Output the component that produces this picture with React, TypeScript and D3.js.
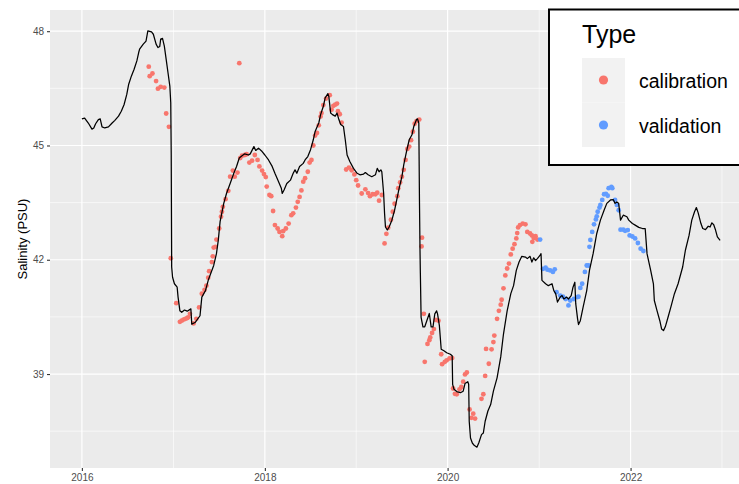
import React, { useRef, useEffect } from "react";
import * as d3 from "d3";

// modelled salinity (decimal year, PSU)
const simYear = [
  2016.00, 2016.03, 2016.07, 2016.11, 2016.13, 2016.15, 2016.18, 2016.20, 2016.22, 2016.25,
  2016.29, 2016.33, 2016.36, 2016.40, 2016.43, 2016.46, 2016.49, 2016.51, 2016.54, 2016.57,
  2016.60, 2016.62, 2016.63, 2016.67, 2016.70, 2016.72, 2016.76, 2016.78, 2016.81, 2016.83,
  2016.85, 2016.86, 2016.88, 2016.90, 2016.92, 2016.94, 2016.96, 2016.97, 2016.975, 2016.98,
  2016.99, 2017.01, 2017.04, 2017.05, 2017.07, 2017.09, 2017.12, 2017.15, 2017.19, 2017.20,
  2017.24, 2017.29, 2017.31, 2017.35, 2017.38, 2017.44, 2017.47, 2017.49, 2017.51, 2017.55,
  2017.58, 2017.62, 2017.66, 2017.69, 2017.72, 2017.75, 2017.78, 2017.82, 2017.84, 2017.88,
  2017.90, 2017.93, 2017.97, 2018.00, 2018.04, 2018.08, 2018.11, 2018.15, 2018.18, 2018.19,
  2018.21, 2018.24, 2018.28, 2018.31, 2018.33, 2018.35, 2018.38, 2018.42, 2018.44, 2018.47,
  2018.50, 2018.53, 2018.55, 2018.59, 2018.61, 2018.64, 2018.66, 2018.69, 2018.70, 2018.72,
  2018.74, 2018.77, 2018.79, 2018.81, 2018.83, 2018.86, 2018.88, 2018.90, 2018.93, 2018.97,
  2019.01, 2019.04, 2019.08, 2019.10, 2019.13, 2019.17, 2019.21, 2019.23, 2019.25, 2019.27,
  2019.28, 2019.30, 2019.31, 2019.32, 2019.34, 2019.36, 2019.39, 2019.42, 2019.45, 2019.47,
  2019.50, 2019.52, 2019.55, 2019.58, 2019.61, 2019.63, 2019.66, 2019.67, 2019.685, 2019.692,
  2019.698, 2019.702, 2019.71, 2019.73, 2019.75, 2019.78, 2019.80, 2019.82, 2019.84, 2019.86,
  2019.88, 2019.89, 2019.91, 2019.93, 2019.96, 2019.99, 2020.03, 2020.05, 2020.055, 2020.07,
  2020.10, 2020.14, 2020.17, 2020.19, 2020.22, 2020.23, 2020.236, 2020.25, 2020.27, 2020.29,
  2020.32, 2020.34, 2020.37, 2020.39, 2020.41, 2020.44, 2020.47, 2020.50, 2020.54, 2020.58,
  2020.61, 2020.65, 2020.69, 2020.72, 2020.75, 2020.78, 2020.81, 2020.85, 2020.87, 2020.90,
  2020.92, 2020.94, 2020.96, 2020.98, 2021.01, 2021.02, 2021.03, 2021.07, 2021.10, 2021.14,
  2021.16, 2021.18, 2021.20, 2021.23, 2021.25, 2021.27, 2021.30, 2021.32, 2021.35, 2021.37,
  2021.39, 2021.40, 2021.42, 2021.43, 2021.45, 2021.48, 2021.52, 2021.55, 2021.59, 2021.63,
  2021.67, 2021.71, 2021.74, 2021.78, 2021.81, 2021.83, 2021.85, 2021.87, 2021.89, 2021.92,
  2021.96, 2021.98, 2022.02, 2022.05, 2022.09, 2022.13, 2022.16, 2022.18, 2022.22, 2022.25,
  2022.26, 2022.29, 2022.32, 2022.34, 2022.36, 2022.38, 2022.41, 2022.44, 2022.48, 2022.52,
  2022.57, 2022.60, 2022.64, 2022.67, 2022.70, 2022.72, 2022.74, 2022.77, 2022.79, 2022.82,
  2022.85, 2022.87, 2022.89, 2022.91, 2022.93, 2022.95, 2022.98,
];
const simSalinity = [
  45.70, 45.72, 45.59, 45.43, 45.46, 45.57, 45.68, 45.70, 45.49, 45.46,
  45.49, 45.59, 45.66, 45.77, 45.90, 46.07, 46.34, 46.60, 46.82, 47.00,
  47.22, 47.44, 47.53, 47.66, 47.74, 48.01, 47.98, 47.92, 47.66, 47.57,
  47.60, 47.79, 47.81, 47.61, 47.26, 46.91, 46.56, 46.12, 44.81, 41.81,
  41.54, 41.37, 41.28, 41.02, 40.66, 40.62, 40.68, 40.65, 40.71, 40.31,
  40.36, 40.53, 41.02, 41.19, 41.46, 41.85, 42.16, 42.51, 43.00, 43.48,
  43.74, 44.00, 44.27, 44.45, 44.67, 44.73, 44.78, 44.75, 44.78, 44.97,
  44.87, 44.93, 44.84, 44.75, 44.62, 44.45, 44.27, 44.05, 43.88, 43.74,
  43.83, 44.00, 44.09, 44.27, 44.36, 44.27, 44.45, 44.53, 44.62, 44.71,
  44.89, 45.15, 45.37, 45.59, 45.81, 46.03, 46.25, 46.36, 46.29, 45.85,
  45.81, 45.77, 45.85, 45.68, 45.55, 45.50, 45.15, 44.75, 44.58, 44.40,
  44.27, 44.23, 44.25, 44.29, 44.23, 44.18, 44.23, 44.40, 44.31, 44.36,
  44.31, 43.74, 43.22, 42.86, 42.78, 42.86, 43.04, 43.30, 43.65, 43.88,
  44.18, 44.49, 44.84, 45.15, 45.28, 45.50, 45.68, 45.70, 45.59, 43.57,
  42.25, 41.63, 40.49, 40.24, 40.24, 40.45, 40.59, 40.24, 40.24, 40.58,
  40.66, 40.58, 40.27, 39.65, 39.61, 39.56, 39.52, 39.48, 38.73, 38.60,
  38.54, 38.51, 38.55, 38.75, 38.80, 38.73, 37.76, 37.32, 37.19, 37.13,
  37.08, 37.19, 37.41, 37.45, 37.76, 38.03, 38.20, 38.55, 38.90, 39.45,
  40.05, 40.66, 41.11, 41.32, 41.72, 41.94, 42.09, 42.07, 42.03, 42.09,
  41.94, 42.05, 41.98, 42.03, 42.12, 42.16, 41.46, 41.37, 41.32, 41.37,
  41.19, 41.11, 40.89, 41.02, 41.06, 40.97, 41.02, 40.97, 41.06, 41.28,
  41.41, 40.84, 40.45, 40.30, 40.40, 40.75, 41.19, 41.72, 42.16, 42.69,
  43.04, 43.30, 43.48, 43.57, 43.58, 43.48, 43.52, 43.48, 43.04, 43.17,
  43.13, 43.04, 42.95, 42.91, 42.85, 42.82, 42.82, 42.16, 41.72, 41.37,
  40.93, 40.66, 40.40, 40.18, 40.14, 40.24, 40.49, 40.75, 41.11, 41.37,
  41.81, 42.25, 42.64, 43.04, 43.26, 43.37, 43.23, 42.95, 42.82, 42.79,
  42.88, 42.86, 42.97, 42.92, 42.78, 42.60, 42.51,
];

// observed salinity used for calibration
const calYear = [
  2016.73, 2016.74, 2016.77, 2016.81, 2016.83, 2016.86, 2016.90, 2016.92, 2016.95, 2016.97,
  2017.03, 2017.07, 2017.09, 2017.11, 2017.13, 2017.15, 2017.16, 2017.18, 2017.22, 2017.25,
  2017.28, 2017.31, 2017.34, 2017.36, 2017.38, 2017.39, 2017.42, 2017.43, 2017.44, 2017.46,
  2017.47, 2017.50, 2017.52, 2017.53, 2017.54, 2017.57, 2017.60, 2017.62, 2017.65, 2017.67,
  2017.70, 2017.72, 2017.73, 2017.75, 2017.78, 2017.80, 2017.83, 2017.86, 2017.89, 2017.92,
  2017.94, 2017.97, 2017.99, 2018.01, 2018.02, 2018.05, 2018.07, 2018.09, 2018.11, 2018.14,
  2018.16, 2018.19, 2018.20, 2018.23, 2018.26, 2018.29, 2018.31, 2018.34, 2018.36, 2018.38,
  2018.40, 2018.42, 2018.44, 2018.47, 2018.49, 2018.51, 2018.53, 2018.55, 2018.57, 2018.59,
  2018.61, 2018.62, 2018.64, 2018.67, 2018.71, 2018.73, 2018.75, 2018.77, 2018.79, 2018.80,
  2018.82, 2018.84, 2018.89, 2018.92, 2018.95, 2018.98, 2019.00, 2019.02, 2019.06, 2019.10,
  2019.13, 2019.15, 2019.18, 2019.21, 2019.23, 2019.25, 2019.28, 2019.31, 2019.33, 2019.35,
  2019.38, 2019.40, 2019.42, 2019.45, 2019.46, 2019.48, 2019.50, 2019.52, 2019.54, 2019.56,
  2019.58, 2019.60, 2019.62, 2019.64, 2019.66, 2019.69, 2019.715, 2019.72, 2019.74, 2019.75,
  2019.78, 2019.80, 2019.81, 2019.83, 2019.85, 2019.87, 2019.90, 2019.93, 2019.94, 2019.97,
  2019.99, 2020.02, 2020.05, 2020.06, 2020.08, 2020.10, 2020.13, 2020.15, 2020.17, 2020.19,
  2020.21, 2020.24, 2020.26, 2020.28, 2020.30, 2020.37, 2020.39, 2020.41, 2020.42, 2020.45,
  2020.48, 2020.50, 2020.51, 2020.54, 2020.56, 2020.58, 2020.59, 2020.61, 2020.63, 2020.65,
  2020.67, 2020.69, 2020.71, 2020.73, 2020.75, 2020.76, 2020.77, 2020.79, 2020.82, 2020.85,
  2020.87, 2020.90, 2020.92, 2020.925, 2020.94, 2020.96, 2020.98,
];
const calSalinity = [
  47.07, 46.82, 46.89, 46.69, 46.49, 46.54, 46.52, 45.84, 45.49, 42.04,
  40.86, 40.37, 40.40, 40.43, 40.45, 40.47, 40.49, 40.58, 40.33, 40.45,
  40.75, 41.11, 41.21, 41.32, 41.53, 41.70, 41.94, 42.09, 42.32, 42.34,
  42.53, 42.82, 43.13, 43.26, 43.39, 43.59, 43.81, 44.18, 44.34, 44.18,
  44.29, 47.16, 44.67, 44.73, 44.75, 44.77, 44.55, 44.60, 44.75, 44.62,
  44.45, 44.34, 44.25, 44.17, 43.92, 43.70, 43.67, 43.28, 42.91, 42.82,
  42.73, 42.62, 42.75, 42.82, 42.95, 43.17, 43.22, 43.37, 43.52, 43.65,
  43.82, 44.05, 44.14, 44.31, 44.55, 44.62, 45.00, 45.26, 45.33, 45.53,
  45.76, 45.85, 46.06, 46.23, 46.32, 45.94, 46.04, 46.07, 46.10, 45.90,
  45.82, 45.60, 44.37, 44.42, 44.35, 44.24, 44.09, 43.95, 43.74, 43.85,
  43.75, 43.67, 43.72, 43.72, 43.76, 43.55, 43.70, 42.43, 42.68, 42.84,
  43.05, 43.26, 43.47, 43.67, 43.88, 44.03, 44.18, 44.36, 44.62, 44.91,
  44.97, 45.14, 45.36, 45.57, 45.64, 45.68, 42.35, 42.58, 40.58, 39.32,
  39.79, 39.89, 39.96, 40.08, 40.18, 40.42, 40.40, 39.52, 39.26, 39.32,
  39.36, 39.41, 39.42, 38.62, 38.48, 38.47, 38.60, 38.66, 38.80, 38.99,
  39.04, 38.07, 37.85, 37.96, 37.83, 38.35, 38.47, 38.95, 39.66, 39.27,
  39.65, 39.84, 40.01, 40.45, 40.66, 40.82, 40.95, 41.25, 41.59, 41.77,
  41.90, 42.14, 42.29, 42.41, 42.56, 42.70, 42.85, 42.91, 42.95, 42.93,
  42.73, 42.69, 42.64, 42.47, 42.57, 42.62, 42.53,
];

// observed salinity used for validation
const valYear = [
  2021.01, 2021.04, 2021.07, 2021.09, 2021.12, 2021.15, 2021.17, 2021.19, 2021.23, 2021.26,
  2021.29, 2021.32, 2021.34, 2021.38, 2021.42, 2021.43, 2021.45, 2021.47, 2021.50, 2021.52,
  2021.54, 2021.55, 2021.56, 2021.58, 2021.60, 2021.62, 2021.63, 2021.64, 2021.66, 2021.67,
  2021.69, 2021.71, 2021.73, 2021.75, 2021.76, 2021.79, 2021.80, 2021.83, 2021.85, 2021.87,
  2021.89, 2021.92, 2021.94, 2021.97, 2021.99, 2022.02, 2022.05, 2022.08, 2022.11, 2022.14,
];
const valSalinity = [
  42.53, 41.76, 41.79, 41.74, 41.72, 41.68, 41.75, 41.15, 41.06, 41.03,
  40.97, 40.80, 40.93, 40.97, 41.02, 41.03, 41.26, 41.37, 41.68, 41.85,
  41.85, 42.34, 42.52, 42.73, 42.93, 43.06, 43.14, 43.26, 43.37, 43.44,
  43.57, 43.72, 43.73, 43.68, 43.88, 43.91, 43.88, 43.57, 43.44, 43.30,
  42.79, 42.79, 42.76, 42.78, 42.64, 42.61, 42.56, 42.44, 42.29, 42.23,
];

const typeLabels = ["calibration", "validation"];
const typeColors = ["#F8766D", "#619CFF"];

const W = 739;
const H = 484;
const panel = { left: 50, right: 752, top: 10, bottom: 468 };
const font = "'Liberation Sans', Arial, Helvetica, sans-serif";

// decimal year -> Date
const toDate = (d: number) => {
  const y = Math.floor(d);
  const a = new Date(y, 0, 1).getTime();
  const b = new Date(y + 1, 0, 1).getTime();
  return new Date(a + (d - y) * (b - a));
};

const expand = (ext: [number, number]) => {
  const pad = (ext[1] - ext[0]) * 0.05;
  return [ext[0] - pad, ext[1] + pad];
};

const App = () => {
  const svgRef = useRef<SVGSVGElement>(null);

  useEffect(() => {
    const svg = d3.select(svgRef.current);
    svg.selectAll("*").remove();

    const allYears = simYear.concat(calYear, valYear);
    const allSal = simSalinity.concat(calSalinity, valSalinity);
    const xd = expand(d3.extent(allYears) as [number, number]);
    const yd = expand(d3.extent(allSal) as [number, number]);

    const x = d3.scaleTime().domain([toDate(xd[0]), toDate(xd[1])]).range([panel.left, panel.right]);
    const y = d3.scaleLinear().domain(yd).range([panel.bottom, panel.top]);

    svg.append("rect")
      .attr("x", panel.left).attr("y", panel.top)
      .attr("width", panel.right - panel.left).attr("height", panel.bottom - panel.top)
      .attr("fill", "#EBEBEB");

    const years = x.ticks(d3.timeYear.every(1));
    const xMajor = years.filter((d) => d.getFullYear() % 2 === 0);
    const xMinor = years.filter((d) => d.getFullYear() % 2 === 1);
    const yMajor = d3.range(39, 49, 3);
    const yMinor = d3.range(37.5, 49, 3);

    const grid = svg.append("g").attr("stroke", "#FFFFFF");
    grid.selectAll(".ymin").data(yMinor).join("line")
      .attr("x1", panel.left).attr("x2", panel.right)
      .attr("y1", (d) => y(d)).attr("y2", (d) => y(d)).attr("stroke-width", 0.6);
    grid.selectAll(".xmin").data(xMinor).join("line")
      .attr("x1", (d) => x(d)).attr("x2", (d) => x(d))
      .attr("y1", panel.top).attr("y2", panel.bottom).attr("stroke-width", 0.6);
    grid.selectAll(".ymaj").data(yMajor).join("line")
      .attr("x1", panel.left).attr("x2", panel.right)
      .attr("y1", (d) => y(d)).attr("y2", (d) => y(d)).attr("stroke-width", 1.2);
    grid.selectAll(".xmaj").data(xMajor).join("line")
      .attr("x1", (d) => x(d)).attr("x2", (d) => x(d))
      .attr("y1", panel.top).attr("y2", panel.bottom).attr("stroke-width", 1.2);

    // axes
    const xAxis = d3.axisBottom(x).tickValues(xMajor).tickSize(3).tickPadding(3)
      .tickFormat((d) => d3.timeFormat("%Y")(d as Date));
    const gx = svg.append("g").attr("transform", `translate(0,${panel.bottom})`).call(xAxis);
    const yAxis = d3.axisLeft(y).tickValues(yMajor).tickSize(3).tickPadding(3);
    const gy = svg.append("g").attr("transform", `translate(${panel.left},0)`).call(yAxis);
    [gx, gy].forEach((g) => {
      g.select(".domain").remove();
      g.selectAll(".tick line").attr("stroke", "#333333").attr("stroke-width", 1.1);
      g.selectAll(".tick text").attr("fill", "#4D4D4D").style("font-family", font).style("font-size", "10px");
    });

    svg.append("text")
      .attr("transform", `translate(27,${(panel.top + panel.bottom) / 2}) rotate(-90)`)
      .attr("text-anchor", "middle")
      .style("font-family", font).style("font-size", "13px")
      .text("Salinity (PSU)");

    // observed points
    const obs = [
      calYear.map((d, i) => ({ t: toDate(d), v: calSalinity[i], k: 0 })),
      valYear.map((d, i) => ({ t: toDate(d), v: valSalinity[i], k: 1 })),
    ].flat();
    svg.append("g").selectAll("circle").data(obs).join("circle")
      .attr("cx", (d) => x(d.t)).attr("cy", (d) => y(d.v)).attr("r", 2.4)
      .attr("fill", (d) => typeColors[d.k]);

    // modelled line
    const sim = simYear.map((d, i) => ({ t: toDate(d), v: simSalinity[i] }));
    const myLine = d3.line<{ t: Date; v: number }>().x((d) => x(d.t)).y((d) => y(d.v));
    svg.append("path").datum(sim)
      .attr("d", myLine).attr("fill", "none")
      .attr("stroke", "#000000").attr("stroke-width", 1.25).attr("stroke-linejoin", "round");

    // legend
    const lg = svg.append("g").attr("transform", "translate(549,9.5)");
    lg.append("rect").attr("width", 210).attr("height", 155.5)
      .attr("fill", "#FFFFFF").attr("stroke", "#000000").attr("stroke-width", 2);
    lg.append("text").attr("x", 33).attr("y", 33)
      .style("font-family", font).style("font-size", "25px").text("Type");
    typeLabels.forEach((lab, i) => {
      lg.append("rect").attr("x", 33).attr("y", 48.5 + i * 44.5)
        .attr("width", 43).attr("height", 44.5).attr("fill", "#F2F2F2");
      lg.append("circle").attr("cx", 54.5).attr("cy", 70.5 + i * 45)
        .attr("r", 4.6).attr("fill", typeColors[i]);
      lg.append("text").attr("x", 90).attr("y", 78 + i * 45)
        .style("font-family", font).style("font-size", "19.5px").text(lab);
    });
  }, []);

  return (
    <svg ref={svgRef} width={W} height={H}
      style={{ position: "absolute", left: 0, top: 0, background: "#FFFFFF" }} />
  );
};

export default App;
